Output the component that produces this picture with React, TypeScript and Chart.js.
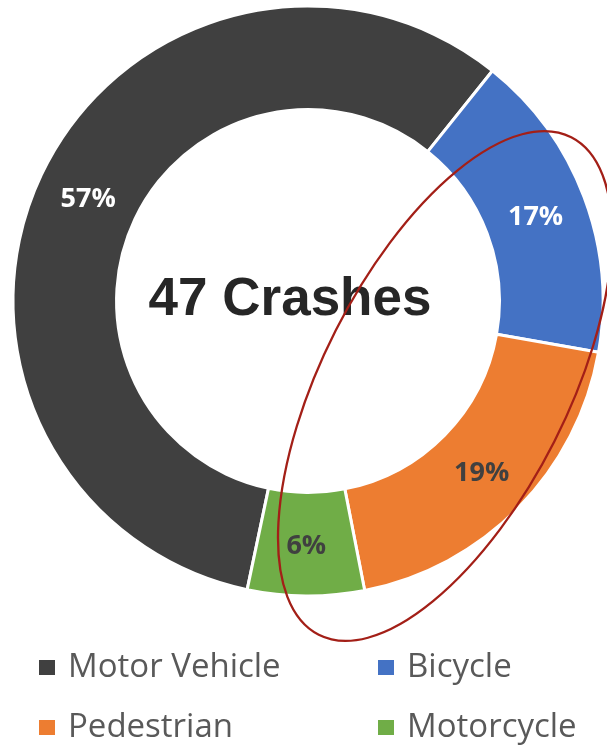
import React, { useEffect, useRef } from "react";
import { Chart, ArcElement, DoughnutController } from "chart.js";

Chart.register(ArcElement, DoughnutController);

const categories = ["Motor Vehicle", "Bicycle", "Pedestrian", "Motorcycle"];
const crashCounts = [27, 8, 9, 3];
const sliceColors = ["#404040", "#4472C4", "#ED7D31", "#70AD47"];
const labelColors = ["#FFFFFF", "#FFFFFF", "#404040", "#404040"];
const centerTitle = "47 Crashes";

const overlayPlugin = {
  id: "overlay",
  afterDatasetsDraw(chart: any) {
    const ctx: CanvasRenderingContext2D = chart.ctx;
    const meta = chart.getDatasetMeta(0);
    const data = chart.data.datasets[0].data as number[];
    const colors = chart.data.datasets[0].backgroundColor as string[];
    const labels = chart.data.labels as string[];
    const total = data.reduce((a, b) => a + b, 0);
    ctx.save();

    // percentage labels
    ctx.font = "bold 27px 'Open Sans'";
    ctx.textAlign = "center";
    ctx.textBaseline = "middle";
    meta.data.forEach((arc: any, i: number) => {
      const p = arc.getCenterPoint();
      ctx.fillStyle = labelColors[i];
      ctx.fillText(Math.round((data[i] / total) * 100) + "%", p.x, p.y + 2);
    });

    // center title
    const first = meta.data[0];
    const cx = first.x;
    const cy = first.y;
    ctx.font = "bold 53px 'Liberation Sans'";
    ctx.fillStyle = "#262626";
    ctx.textBaseline = "alphabetic";
    ctx.fillText(centerTitle, cx - 18, cy + 14);

    // legend (two columns)
    ctx.textAlign = "left";
    ctx.font = "33px 'Open Sans'";
    const colX = [39, 378];
    labels.forEach((lab, i) => {
      const col = i % 2;
      const row = Math.floor(i / 2);
      const bx = colX[col];
      const by = 660 + row * 60;
      ctx.fillStyle = colors[i];
      ctx.fillRect(bx, by, 16, 15);
      ctx.fillStyle = "#595959";
      ctx.fillText(lab, bx + 29, 677 + row * 60);
    });

    // annotation ellipse
    ctx.beginPath();
    ctx.ellipse(cx + 137, cy + 85, 122.6, 279, (26.9 * Math.PI) / 180, 0, Math.PI * 2);
    ctx.strokeStyle = "#A31F17";
    ctx.lineWidth = 2.3;
    ctx.stroke();
    ctx.restore();
  },
};

export default function App() {
  const ref = useRef<HTMLCanvasElement | null>(null);
  useEffect(() => {
    if (!ref.current) return;
    const chart = new Chart(ref.current, {
      type: "doughnut",
      data: {
        labels: categories,
        datasets: [
          {
            data: crashCounts,
            backgroundColor: sliceColors,
            borderColor: "#FFFFFF",
            borderWidth: 3,
            hoverOffset: 0,
            offset: 0,
          },
        ],
      },
      options: {
        animation: false,
        responsive: false,
        maintainAspectRatio: false,
        events: [],
        rotation: 191.9,
        cutout: "64.9%",
        radius: 295,
        layout: { padding: { left: 13, top: 6, right: 4, bottom: 150 } },
        plugins: {
          legend: { display: false },
          tooltip: { enabled: false },
        },
      } as any,
      plugins: [overlayPlugin],
    });
    return () => chart.destroy();
  }, []);
  return (
    <div style={{ position: "fixed", left: 0, top: 0, width: 607, height: 746, background: "#fff" }}>
      <canvas ref={ref} width={607} height={746} style={{ display: "block", width: 607, height: 746 }} />
    </div>
  );
}
